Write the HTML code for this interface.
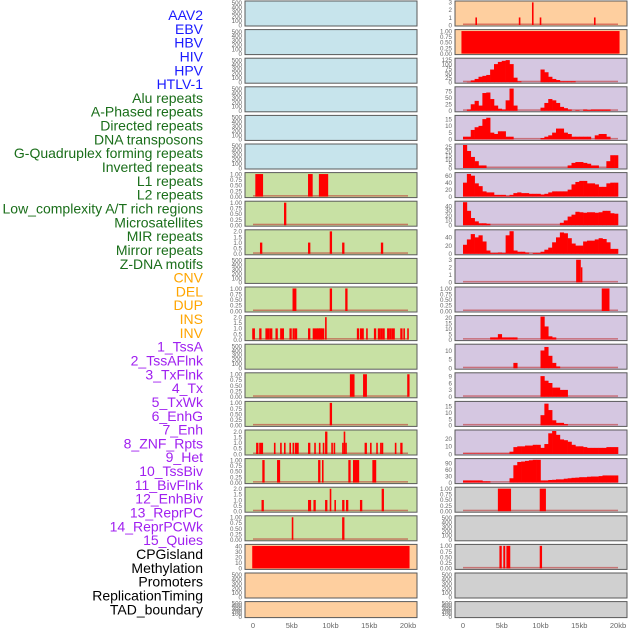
<!DOCTYPE html>
<html><head><meta charset="utf-8"><style>
html,body{margin:0;padding:0;background:#fff;}
svg{display:block;font-family:"Liberation Sans",sans-serif;}
</style></head><body>
<svg id="chart" width="630" height="630" viewBox="0 0 630 630"></svg>
<script>
// ---- data ----
const labels = ["AAV2","EBV","HBV","HIV","HPV","HTLV-1","Alu repeats","A-Phased repeats","Directed repeats","DNA transposons","G-Quadruplex forming repeats","Inverted repeats","L1 repeats","L2 repeats","Low_complexity A/T rich regions","Microsatellites","MIR repeats","Mirror repeats","Z-DNA motifs","CNV","DEL","DUP","INS","INV","1_TssA","2_TssAFlnk","3_TxFlnk","4_Tx","5_TxWk","6_EnhG","7_Enh","8_ZNF_Rpts","9_Het","10_TssBiv","11_BivFlnk","12_EnhBiv","13_ReprPC","14_ReprPCWk","15_Quies","CPGisland","Methylation","Promoters","ReplicationTiming","TAD_boundary"];
const labelGroups = [0,0,0,0,0,0,1,1,1,1,1,1,1,1,1,1,1,1,1,2,2,2,2,2,3,3,3,3,3,3,3,3,3,3,3,3,3,3,3,4,4,4,4,4];
const xTicks = [0,5,10,15,20];
const xTickLabels = ["0","5kb","10kb","15kb","20kb"];

// left column sparse segments [startKb, endKb, value]
const leftRow6 = [[0.3,1.3,1],[7.1,7.7,1],[8.5,9.7,1]];
const leftRow7 = [[4.0,4.3,1]];
const leftRow8 = [[0.9,1.2,1],[7.1,7.4,1],[9.9,10.2,2],[11.5,11.8,1],[16.5,16.8,1]];
const leftRow10 = [[5.1,5.6,1],[9.9,10.2,1],[11.9,12.2,1]];
const leftRow11 = [[-0.1,0.25,1],[0.8,1.1,1],[1.6,2.1,1],[2.1,2.5,1],[2.9,3.2,1],[3.5,4.0,1],[4.7,5.0,1],[5.1,5.4,1],[5.4,5.7,1],[7.1,7.4,1],[7.7,8.0,1],[8.0,8.4,1],[8.3,8.7,1],[8.5,8.9,1],[8.8,9.2,1],[9.3,9.5,2],[13.4,13.7,1],[13.8,14.3,1],[14.6,14.8,1],[15.6,15.9,1],[16.1,16.4,1],[16.4,16.7,1],[16.7,17.0,1],[17.3,17.6,1],[17.6,17.9,1],[17.9,18.3,1],[19.0,19.3,1],[19.4,19.6,1],[19.9,20.1,1]];
const leftRow13 = [[12.5,13.1,1],[14.2,14.7,1],[19.9,20.2,1]];
const leftRow14 = [[9.9,10.2,1]];
const leftRow15 = [[0.4,0.7,1],[0.8,1.3,1],[2.7,2.9,1],[3.5,3.7,1],[4.0,4.2,1],[4.7,4.9,1],[5.1,5.3,1],[5.4,5.9,1],[7.1,7.4,1],[7.9,8.1,1],[8.5,8.7,1],[9.0,9.2,1],[9.3,9.6,2],[10.1,10.3,1],[10.4,10.6,1],[11.5,11.7,1],[11.7,11.9,2],[11.9,12.1,1],[14.4,14.7,1],[15.1,15.3,1],[15.9,16.1,1],[16.4,16.6,1],[16.6,16.8,1],[18.3,18.5,1],[19.0,19.3,1]];
const leftRow16 = [[1.2,1.5,1],[3.1,3.5,1],[8.4,8.7,1],[8.9,9.1,1],[12.3,12.6,1],[12.9,13.7,1],[15.4,15.9,1]];
const leftRow17 = [[1.1,1.4,1],[7.1,7.5,1],[7.8,8.1,1],[9.3,9.6,1],[9.9,10.1,2],[10.5,10.7,1],[11.5,11.8,1],[12.0,12.3,1],[13.8,14.1,1],[16.6,16.9,2]];
const leftRow18 = [[5.0,5.2,1],[11.5,11.8,1]];
const cpgIsland = [[-0.1,20.2,40]];

// right column
const aav2Hits = [[1.6,1.8,1],[7.2,7.4,1],[8.9,9.1,3],[9.9,10.1,1],[16.9,17.1,1]];
const ebvCover = [[-0.2,20.2,1]];
const hivBins = [0,2,10,18,30,35,40,70,100,112,118,122,100,25,5,0,0,0,0,0,70,55,30,18,12,5,5,5,5,0,0,0,0,0,0,0,0,0,0,0];
const hpvBins = [0,5,25,38,20,68,70,45,20,8,5,40,85,20,0,0,0,0,0,0,12,30,45,40,30,15,10,5,0,2,0,5,3,5,5,5,5,5,0,0];
const htlvBins = [2,2,7,9,10,15,16,5,4,6,6,2,2,0,0,0,0,0,0,0,1,2,3,5,8,8,5,4,2,2,2,2,2,0,3,4,4,2,0,0];
const aluBins = [27,20,13,8,3,3,0,0,0,0,0,0,0,0,0,0,0,0,0,0,0,0,0,0,0,0,0,3,6,7,7,6,5,3,3,0,0,8,15,15];
const aphasedBins = [40,65,60,38,30,15,12,12,5,5,5,2,5,10,12,10,10,8,8,8,6,8,12,15,15,15,15,20,35,42,45,45,38,38,35,28,28,38,40,40];
const directedBins = [48,30,15,8,4,4,3,0,0,0,0,0,0,0,0,0,0,0,0,0,0,0,0,0,0,5,10,18,22,28,27,26,27,27,26,27,30,30,25,24];
const dnaTransBins = [22,35,48,40,45,30,8,2,2,3,2,45,55,8,5,5,3,0,2,2,5,10,15,28,40,52,50,38,25,20,20,30,32,32,35,38,36,28,12,12];
const gquadHits = [[14.6,15.2,3],[15.2,15.35,2]];
const invertedHits = [[17.9,18.9,1]];
const l1Bins = [0,0,0,0,0,0,0,2,2,5,2,2,2,2,0,0,0,0,0,0,21,12,3,2,0,0,0,0,0,0,0,0,0,0,0,0,0,0,0,0];
const l2Bins = [0,0,0,0,0,0,0,0,0,0,0,0,0,3,0,0,0,0,0,0,10,12,7,3,1,0,0,0,0,0,0,0,0,0,0,0,0,0,0,0];
const lowCxBins = [0,0,0,0,0,0,0,0,0,0,0,0,0,0,0,0,0,0,0,0,9,7,6,4,4,3,3,0,0,0,0,0,0,0,0,0,0,0,0,0];
const microBins = [0,0,0,0,0,0,0,0,0,0,0,0,0,0,0,0,0,0,0,0,8,17,12,4,2,2,1,0,0,0,0,0,0,0,0,0,0,0,0,0];
const mirBins = [0.5,0.5,0.5,0.5,0.5,0.5,0.5,0.5,0.5,0.5,0.5,0.5,3,9,10,10,11,11,12,12,8,13,27,30,25,19,18,16,12,10,10,9,8,8,8,8,8,9,9,9];
const mirrorBins = [10,10,10,10,10,6,6,0,0,0,0,0,20,80,95,97,100,103,105,105,10,10,12,13,15,15,18,20,22,23,25,25,27,28,28,30,33,33,33,33];
const zdnaHits = [[4.5,6.2,1],[9.9,10.7,1]];
const delHits = [[4.7,5.0,1],[5.2,5.45,1],[5.6,6.1,1],[9.9,10.2,1]];
const emptyHits = [];

// ---- layout ----
const svg = document.getElementById('chart');
const NS = 'http://www.w3.org/2000/svg';
const leftBase = 245, rightBase = 455, panelW = 172, kbPx = 7.75;
const rowTop = i => 1 + i * 28.6;
const rowH = i => (i === 21 ? 16 : 25);
const colors = {blue:'#c7e4ec', green:'#c8e1a4', orange:'#fecf9f', purple:'#d5c7e1', gray:'#d0d0d0'};
const t500 = [0,100,200,300,400,500], t1 = ['0.00','0.25','0.50','0.75','1.00'], t2 = ['0.0','0.5','1.0','1.5','2.0'];

function mk(tag, attrs, parent){ const e=document.createElementNS(NS,tag); for(const k in attrs) e.setAttribute(k,attrs[k]); (parent||svg).appendChild(e); return e; }

const left = [];
for(let i=0;i<6;i++) left.push({bg:'blue', ticks:t500, ymax:520, seg:emptyHits, nobase:true});
left.push({bg:'green',ticks:t1,ymax:1.02,seg:leftRow6});
left.push({bg:'green',ticks:t1,ymax:1.02,seg:leftRow7});
left.push({bg:'green',ticks:t2,ymax:2.05,seg:leftRow8});
left.push({bg:'green',ticks:t500,ymax:520,seg:emptyHits,nobase:true});
left.push({bg:'green',ticks:t1,ymax:1.02,seg:leftRow10});
left.push({bg:'green',ticks:t2,ymax:2.05,seg:leftRow11});
left.push({bg:'green',ticks:t500,ymax:520,seg:emptyHits,nobase:true});
left.push({bg:'green',ticks:t1,ymax:1.02,seg:leftRow13});
left.push({bg:'green',ticks:t1,ymax:1.02,seg:leftRow14});
left.push({bg:'green',ticks:t2,ymax:2.05,seg:leftRow15});
left.push({bg:'green',ticks:t1,ymax:1.02,seg:leftRow16});
left.push({bg:'green',ticks:t2,ymax:2.05,seg:leftRow17});
left.push({bg:'green',ticks:t1,ymax:1.02,seg:leftRow18});
left.push({bg:'orange',ticks:[0,10,20,30,40],ymax:41,seg:cpgIsland,nobase:true});
left.push({bg:'orange',ticks:t500,ymax:520,seg:emptyHits,nobase:true});
left.push({bg:'orange',ticks:t500,ymax:520,seg:emptyHits,nobase:true});

const right = [
 {bg:'orange',ticks:[0,1,2,3],ymax:3.05,seg:aav2Hits},
 {bg:'orange',ticks:t1,ymax:1.02,seg:ebvCover},
 {bg:'purple',ticks:[0,25,50,75,100,125],ymax:127,bins:hivBins},
 {bg:'purple',ticks:[0,25,50,75],ymax:88,bins:hpvBins},
 {bg:'purple',ticks:[0,5,10,15],ymax:17,bins:htlvBins},
 {bg:'purple',ticks:[0,5,10,15,20,25],ymax:27,bins:aluBins},
 {bg:'purple',ticks:[0,20,40,60],ymax:66,bins:aphasedBins},
 {bg:'purple',ticks:[0,10,20,30,40],ymax:48,bins:directedBins},
 {bg:'purple',ticks:[0,20,40],ymax:56,bins:dnaTransBins},
 {bg:'purple',ticks:[0,1,2,3],ymax:3.05,seg:gquadHits},
 {bg:'purple',ticks:t1,ymax:1.02,seg:invertedHits},
 {bg:'purple',ticks:[0,5,10,15,20],ymax:21,bins:l1Bins},
 {bg:'purple',ticks:[0,5,10],ymax:13,bins:l2Bins},
 {bg:'purple',ticks:[0,3,6,9],ymax:10,bins:lowCxBins},
 {bg:'purple',ticks:[0,5,10,15],ymax:18,bins:microBins},
 {bg:'purple',ticks:[0,10,20],ymax:30,bins:mirBins},
 {bg:'purple',ticks:[0,30,60,90],ymax:106,bins:mirrorBins},
 {bg:'gray',ticks:t1,ymax:1.02,seg:zdnaHits},
 {bg:'gray',ticks:t500,ymax:520,seg:emptyHits,nobase:true},
 {bg:'gray',ticks:t1,ymax:1.02,seg:delHits},
 {bg:'gray',ticks:t500,ymax:520,seg:emptyHits,nobase:true},
 {bg:'gray',ticks:t500,ymax:520,seg:emptyHits,nobase:true}
];

function drawPanel(cfg, i, base, side){
  const top=rowTop(i), h=rowH(i), bottom=top+h-1;
  const g=mk('g',{});
  
  
  const bg=mk('rect',{x:base,y:top,width:panelW,height:h,fill:colors[cfg.bg],stroke:'#5a5a5a','stroke-width':1},g);
  
  
  const xs=kb=>base+8+kb*kbPx;
  const ys=v=>bottom-(v/cfg.ymax)*(h-2);
  cfg.ticks.forEach(t=>{
    const v=parseFloat(t);
    const tx=mk('text',{x:base-3,y:ys(v)+2.3,'text-anchor':'end','font-size':6.2,fill:'#666'},g);
    tx.textContent=String(t);
    
    
  });
  if(!cfg.nobase){
    const bl=mk('rect',{x:xs(0),y:bottom-1.5,width:xs(20)-xs(0),height:1.5,fill:'rgba(190,40,40,0.55)'},g);
    
    
  }
  if(cfg.bins){
    const bw=20/cfg.bins.length;
    cfg.bins.forEach((v,k)=>{
      if(v<=0) return;
      const r=mk('rect',{x:xs(k*bw),y:ys(v),width:bw*kbPx+0.3,height:bottom-ys(v),fill:'#ff0000'},g);
      
      
    });
  }
  if(cfg.seg){
    cfg.seg.forEach(s=>{
      const r=mk('rect',{x:xs(s[0]),y:ys(s[2]),width:Math.max(1.6,(s[1]-s[0])*kbPx),height:bottom-ys(s[2]),fill:'#ff0000'},g);
      
      
    });
  }
}
left.forEach((c,i)=>drawPanel(c,i,leftBase,'left'));
right.forEach((c,i)=>drawPanel(c,i,rightBase,'right'));

[leftBase,rightBase].forEach((base,ci)=>{
  xTicks.forEach((t,k)=>{
    const tx=mk('text',{x:base+8+t*kbPx,y:628,'text-anchor':'middle','font-size':7.5,fill:'#666'});
    tx.textContent=xTickLabels[k];
    
    
  });
});

const groupColors=['#1a1aff','#1a6e1a','#ffa500','#a020f0','#000000'];
labels.forEach((l,i)=>{
  const tx=mk('text',{x:203,y:15+i*13.82+5,'text-anchor':'end','font-size':14,fill:groupColors[labelGroups[i]]});
  tx.textContent=l;
  
  
});
</script>
</body></html>
